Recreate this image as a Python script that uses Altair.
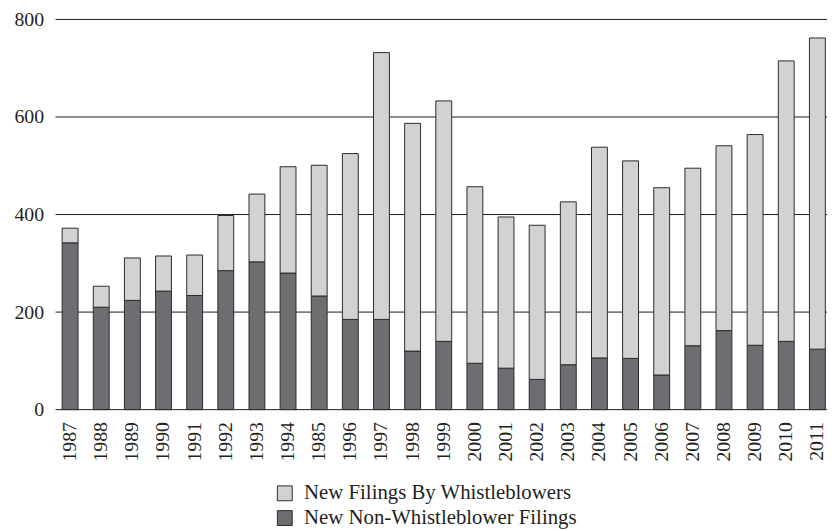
import altair as alt
import pandas as pd

years = ["1987", "1988", "1989", "1990", "1991", "1992", "1993", "1994", "1985",
         "1996", "1997", "1998", "1999", "2000", "2001", "2002", "2003", "2004",
         "2005", "2006", "2007", "2008", "2009", "2010", "2011"]
non_whistle = [342, 210, 224, 243, 234, 285, 303, 280, 233, 185, 185, 120, 140,
               95, 85, 62, 92, 106, 105, 71, 131, 162, 132, 140, 124]
whistle = [30, 43, 87, 72, 83, 113, 139, 218, 268, 340, 547, 467, 493,
           362, 310, 316, 334, 432, 405, 384, 364, 379, 432, 575, 638]
series = ["New Filings By Whistleblowers", "New Non-Whistleblower Filings"]
y_ticks = [0, 200, 400, 600, 800]

rows = []
for i, yr in enumerate(years):
    rows.append({"year": yr, "series": series[1], "value": non_whistle[i], "ord": 0})
    rows.append({"year": yr, "series": series[0], "value": whistle[i], "ord": 1})
df = pd.DataFrame(rows)
grid_df = pd.DataFrame({"value": y_ticks})

FONT = "Liberation Serif"
TXT = "#231f20"

y_scale = alt.Scale(domain=[0, 800], nice=False)

grid = alt.Chart(grid_df).mark_rule(color="#1a1a1a", strokeWidth=1).encode(
    y=alt.Y("value:Q", scale=y_scale, title=None,
            axis=alt.Axis(values=y_ticks, domain=False, ticks=False, labelPadding=12,
                          labelFont=FONT, labelFontSize=20, labelColor=TXT, grid=False)),
    x=alt.value(0),
    x2=alt.value(779),
)

bars = alt.Chart(df).mark_bar(stroke="#2b2b2b", strokeWidth=1).encode(
    x=alt.X("year:N", sort=years, title=None,
            scale=alt.Scale(range=[0, 784], paddingInner=0.49, paddingOuter=0.213),
            axis=alt.Axis(labelAngle=270, domain=False, ticks=False, labelPadding=12,
                          labelFont=FONT, labelFontSize=20, labelColor=TXT, grid=False)),
    y=alt.Y("value:Q", stack="zero", title=None, scale=y_scale),
    color=alt.Color("series:N", title=None,
                    scale=alt.Scale(domain=series, range=["#d1d2d4", "#6d6e71"]),
                    legend=alt.Legend(orient="none", legendX=221, legendY=468,
                                      direction="vertical", symbolType="square",
                                      symbolSize=225, symbolStrokeColor="#2b2b2b",
                                      symbolStrokeWidth=1, labelFont=FONT,
                                      labelFontSize=21, labelColor=TXT, labelOffset=9,
                                      labelLimit=0, rowPadding=3, padding=0)),
    order=alt.Order("ord:Q"),
)

chart = alt.layer(grid, bars).properties(
    width=779,
    height=394,
    autosize=alt.AutoSizeParams(type="none"),
    padding={"left": 48, "top": 9, "right": 0, "bottom": 120},
).configure(background="white").configure_view(
    strokeWidth=0, stroke="#ffffff", strokeOpacity=0
).configure_axis(domain=False, ticks=False, grid=False)

chart.save("out.html", embed_options={"renderer": "svg", "actions": False})
